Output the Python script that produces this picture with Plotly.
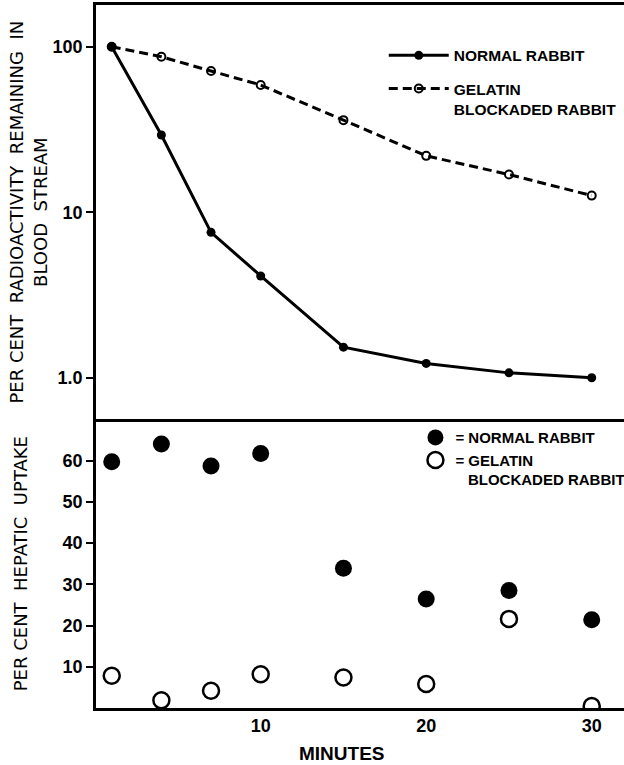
import plotly.graph_objects as go

minutes = [1, 4, 7, 10, 15, 20, 25, 30]
blood_normal = [100, 29.3, 7.56, 4.12, 1.53, 1.22, 1.07, 1.0]
blood_gelatin = [100, 87, 71.3, 58.7, 36, 21.9, 16.9, 12.6]
hepatic_normal = [59.7, 64.0, 58.7, 61.7, 33.9, 26.4, 28.5, 21.4]
hepatic_gelatin = [7.8, 1.9, 4.2, 8.2, 7.4, 5.8, 21.6, 0.5]

top_ticks = [1, 10, 100]
top_ticktext = ["1.0", "10", "100"]
bottom_ticks = [10, 20, 30, 40, 50, 60]
x_ticks = [10, 20, 30]

FONT = "Liberation Sans"
TFONT = "DejaVu Sans"
split = 0.4107

fig = go.Figure()
fig.add_trace(go.Scatter(
    x=minutes, y=blood_normal, xaxis="x2", yaxis="y2", mode="lines+markers",
    name="NORMAL RABBIT", legend="legend", legendgroup="a",
    line=dict(color="black", width=3),
    marker=dict(symbol="circle", size=9, color="black")))
fig.add_trace(go.Scatter(
    x=minutes, y=blood_gelatin, xaxis="x2", yaxis="y2", mode="lines+markers",
    name="GELATIN<br>BLOCKADED RABBIT", legend="legend", legendgroup="b",
    line=dict(color="black", width=3, dash="9px,5px"),
    marker=dict(symbol="circle-open", size=8, color="black", line=dict(width=2))))
fig.add_trace(go.Scatter(
    x=minutes, y=hepatic_normal, xaxis="x", yaxis="y", mode="markers",
    name="= NORMAL RABBIT", legend="legend2", legendgroup="c",
    marker=dict(symbol="circle", size=17, color="black")))
fig.add_trace(go.Scatter(
    x=minutes, y=hepatic_gelatin, xaxis="x", yaxis="y", mode="markers",
    name="= GELATIN<br>   BLOCKADED RABBIT", legend="legend2", legendgroup="d",
    marker=dict(symbol="circle-open", size=16, color="black", line=dict(width=2.5))))

fig.update_layout(
    width=624, height=765,
    margin=dict(l=96, r=0, t=5, b=57, autoexpand=False),
    paper_bgcolor="white", plot_bgcolor="white",
    font=dict(family=FONT, color="black", size=14),
    xaxis=dict(domain=[0, 1], anchor="y", range=[0.05, 31.95],
               tickvals=x_ticks, ticks="", showgrid=False, zeroline=False,
               showline=True, linecolor="black", linewidth=2.5,
               tickfont=dict(family=FONT, size=18, color="black", weight="bold")),
    xaxis2=dict(domain=[0, 1], anchor="y2", matches="x", range=[0.05, 31.95],
                showticklabels=False, ticks="", showgrid=False, zeroline=False,
                showline=True, linecolor="black", linewidth=2.5, mirror=True),
    yaxis=dict(domain=[0, split], anchor="x", range=[0, 70],
               tickvals=bottom_ticks, ticks="outside", ticklen=7, tickwidth=2,
               tickcolor="black", showgrid=False, zeroline=False,
               showline=True, linecolor="black", linewidth=2.5,
               tickfont=dict(family=FONT, size=18, color="black", weight="bold"),
               title=dict(text="PER CENT  HEPATIC  UPTAKE", standoff=31,
                          font=dict(family=TFONT, size=18, color="black"))),
    yaxis2=dict(domain=[split, 1], anchor="x2", type="log", range=[-0.251, 2.252],
                tickvals=top_ticks, ticktext=top_ticktext, ticks="outside",
                ticklen=7, tickwidth=2, tickcolor="black",
                showgrid=False, zeroline=False,
                showline=True, linecolor="black", linewidth=2.5,
                tickfont=dict(family=FONT, size=18, color="black", weight="bold"),
                title=dict(text="PER CENT  RADIOACTIVITY  REMAINING  IN<br>BLOOD  STREAM",
                           standoff=1,
                           font=dict(family=TFONT, size=18, color="black"))),
    legend=dict(x=0.545, y=0.952, xanchor="left", yanchor="top", valign="top",
                bgcolor="rgba(0,0,0,0)", itemwidth=60, tracegroupgap=10,
                font=dict(family=FONT, size=15.5, color="black", weight="bold")),
    legend2=dict(x=0.605, y=0.408, xanchor="left", yanchor="top", valign="top",
                 bgcolor="rgba(0,0,0,0)", itemwidth=30, tracegroupgap=0,
                 font=dict(family=FONT, size=15, color="black", weight="bold")),
    annotations=[dict(text="MINUTES", xref="paper", yref="paper", x=0.466, y=0,
                      xanchor="center", yanchor="middle", yshift=-45, showarrow=False,
                      font=dict(family=FONT, size=19, color="black", weight="bold"))],
)

fig.write_html("out.html")
